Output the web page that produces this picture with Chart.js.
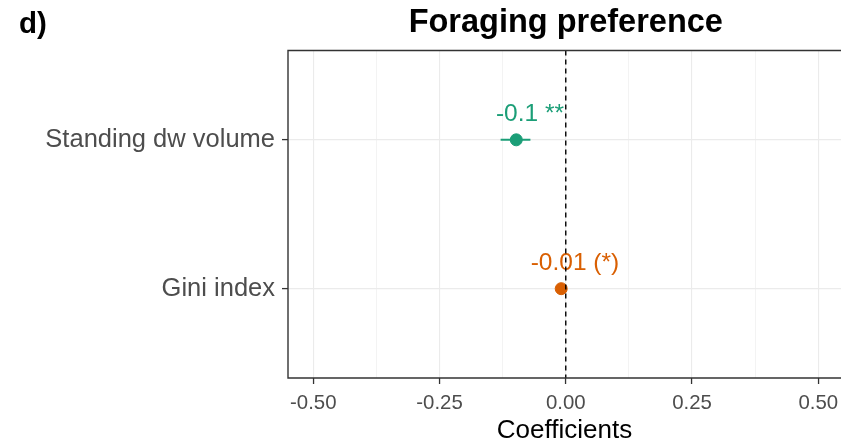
<!DOCTYPE html>
<html>
<head>
<meta charset="utf-8">
<script src="https://cdn.jsdelivr.net/npm/chart.js@4.4.1/dist/chart.umd.min.js"></script>
<style>
  html, body { margin: 0; padding: 0; background: #ffffff; overflow: hidden; width: 841px; height: 446px; }
  canvas { display: block; }
</style>
</head>
<body>
<canvas id="c" width="841" height="446" style="width:841px;height:446px"></canvas>
<script>
// ---- data ----
const panelTag = 'd)';
const chartTitle = 'Foraging preference';
const xAxisTitle = 'Coefficients';
const categories = ['Gini index', 'Standing dw volume'];
const categoryPositions = [1, 2];
const estimates = [-0.009, -0.098];
const lowerCI = [-0.018, -0.129];
const upperCI = [0.000, -0.070];
const pointLabels = ['-0.01 (*)', '-0.1 **'];
const seriesColors = ['#d95f02', '#1b9e77'];
const xMajorTicks = [-0.5, -0.25, 0, 0.25, 0.5];
const xTickLabels = ['-0.50', '-0.25', '0.00', '0.25', '0.50'];
const xMinorTicks = [-0.375, -0.125, 0.125, 0.375];
const xRange = [-0.55, 0.545];   // visible part of the panel (right edge cropped in the original)

const FONT = "'Liberation Sans', Arial, sans-serif";

function isMajor(v) { return xMajorTicks.some(m => Math.abs(m - v) < 1e-9); }

const datasets = [];
// error bars
categoryPositions.forEach((yp, i) => {
  datasets.push({
    type: 'scatter',
    showLine: true,
    data: [{x: lowerCI[i], y: yp}, {x: upperCI[i], y: yp}],
    borderColor: seriesColors[i],
    borderWidth: 2,
    pointRadius: 0,
    pointHoverRadius: 0
  });
});
// points
datasets.push({
  type: 'scatter',
  data: estimates.map((e, i) => ({x: e, y: categoryPositions[i]})),
  pointBackgroundColor: seriesColors,
  pointBorderColor: seriesColors,
  pointBorderWidth: 1,
  pointRadius: 6,
  pointHoverRadius: 6
});

const decorPlugin = {
  id: 'decor',
  beforeDraw(chart) {
    const ctx = chart.ctx;
    ctx.save();
    ctx.fillStyle = '#ffffff';
    ctx.fillRect(0, 0, chart.width, chart.height);
    ctx.restore();
  },
  afterDatasetsDraw(chart) {
    const ctx = chart.ctx;
    const xs = chart.scales.x, ys = chart.scales.y;
    const area = chart.chartArea;
    ctx.save();
    // point labels
    ctx.font = '24.5px ' + FONT;
    ctx.textAlign = 'center';
    ctx.textBaseline = 'alphabetic';
    estimates.forEach((e, i) => {
      const px = xs.getPixelForValue(e);
      const py = ys.getPixelForValue(categoryPositions[i]);
      ctx.fillStyle = seriesColors[i];
      ctx.fillText(pointLabels[i], px + 13.7, py - 18.5);
    });
    // dashed zero line
    const x0 = xs.getPixelForValue(0);
    ctx.strokeStyle = '#000000';
    ctx.lineWidth = 1.4;
    ctx.setLineDash([5, 4]);
    ctx.beginPath();
    ctx.moveTo(x0, area.top);
    ctx.lineTo(x0, area.bottom);
    ctx.stroke();
    ctx.setLineDash([]);
    // panel border (right side lies outside the cropped view)
    ctx.strokeStyle = '#333333';
    ctx.lineWidth = 1.4;
    ctx.beginPath();
    ctx.moveTo(chart.width + 2, area.top);
    ctx.lineTo(area.left, area.top);
    ctx.lineTo(area.left, area.bottom);
    ctx.lineTo(chart.width + 2, area.bottom);
    ctx.stroke();
    ctx.restore();
  },
  afterDraw(chart) {
    const ctx = chart.ctx;
    const area = chart.chartArea;
    const xs = chart.scales.x;
    ctx.save();
    ctx.fillStyle = '#000000';
    ctx.textBaseline = 'alphabetic';
    ctx.font = 'bold 32.5px ' + FONT;
    ctx.textAlign = 'center';
    // centred over the full (uncropped) panel
    const panelCenter = (area.left + xs.getPixelForValue(0.55)) / 2;
    ctx.fillText(chartTitle, panelCenter, 32);
    ctx.font = 'bold 29.5px ' + FONT;
    ctx.textAlign = 'left';
    ctx.fillText(panelTag, 19, 33);
    ctx.restore();
  }
};

new Chart(document.getElementById('c'), {
  type: 'scatter',
  data: { datasets },
  options: {
    responsive: false,
    animation: false,
    devicePixelRatio: 1,
    layout: { autoPadding: false, padding: { left: 0, top: 50.5, right: 0, bottom: 0 } },
    plugins: { legend: { display: false }, tooltip: { enabled: false }, title: { display: false } },
    scales: {
      x: {
        type: 'linear',
        min: xRange[0],
        max: xRange[1],
        afterBuildTicks(scale) {
          scale.ticks = xMajorTicks.concat(xMinorTicks).sort((a, b) => a - b).map(v => ({value: v}));
        },
        afterFit(scale) {
          scale.height = 446 - 378;
          scale.paddingLeft = 0;
          scale.paddingRight = 0;
        },
        ticks: {
          autoSkip: false,
          maxRotation: 0,
          padding: 7,
          color: '#4d4d4d',
          font: { family: FONT, size: 20.4 },
          callback(v) {
            const k = xMajorTicks.findIndex(m => Math.abs(m - v) < 1e-9);
            return k >= 0 ? xTickLabels[k] : '';
          }
        },
        grid: {
          drawOnChartArea: true,
          tickLength: 6,
          color: c => (c.tick && isMajor(c.tick.value)) ? '#ebebeb' : '#f0f0f0',
          lineWidth: c => (c.tick && isMajor(c.tick.value)) ? 1.1 : 0.8,
          tickColor: c => (c.tick && isMajor(c.tick.value)) ? '#333333' : 'rgba(0,0,0,0)',
          tickWidth: 1.3
        },
        border: { display: false },
        title: {
          display: true,
          text: xAxisTitle,
          color: '#000000',
          font: { family: FONT, size: 26 },
          padding: { top: 0, bottom: 0 }
        }
      },
      y: {
        type: 'linear',
        min: 0.4,
        max: 2.6,
        afterBuildTicks(scale) {
          scale.ticks = categoryPositions.map(v => ({value: v}));
        },
        afterFit(scale) {
          scale.width = 288;
          scale.paddingTop = 0;
          scale.paddingBottom = 0;
        },
        ticks: {
          autoSkip: false,
          padding: 7,
          color: '#4d4d4d',
          font: { family: FONT, size: 25.5 },
          callback(v) {
            const k = categoryPositions.indexOf(v);
            return k >= 0 ? categories[k] : '';
          }
        },
        grid: {
          tickLength: 6,
          color: '#ebebeb',
          lineWidth: 1.2,
          tickColor: '#333333',
          tickWidth: 1.3
        },
        border: { display: false }
      }
    }
  },
  plugins: [decorPlugin]
});
</script>
</body>
</html>
